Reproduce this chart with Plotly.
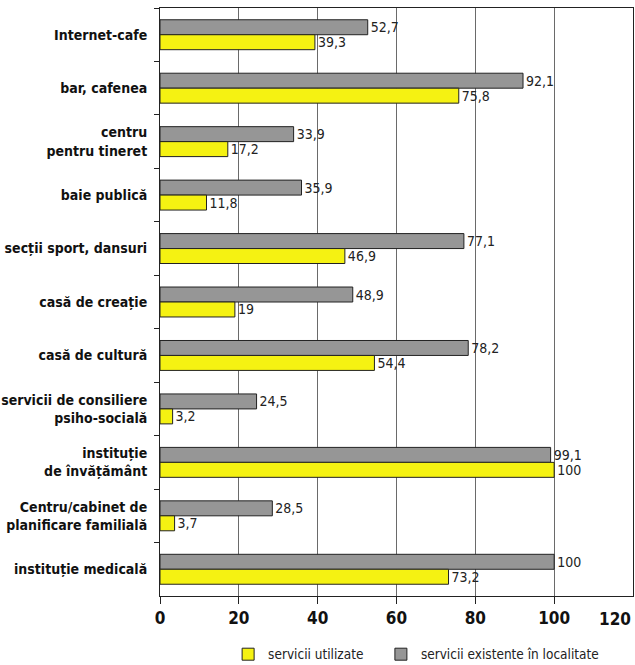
import plotly.graph_objects as go

categories = [
    "Internet-cafe",
    "bar, cafenea",
    "centru<br>pentru tineret",
    "baie publică",
    "secții sport, dansuri",
    "casă de creație",
    "casă de cultură",
    "servicii de consiliere<br>psiho-socială",
    "instituție<br>de învățământ",
    "Centru/cabinet de<br>planificare familială",
    "instituție medicală",
]
existente = [52.7, 92.1, 33.9, 35.9, 77.1, 48.9, 78.2, 24.5, 99.1, 28.5, 100]
utilizate = [39.3, 75.8, 17.2, 11.8, 46.9, 19, 54.4, 3.2, 100, 3.7, 73.2]
x_ticks = [0, 20, 40, 60, 80, 100, 120]


def fmt(v):
    return f"{v:g}".replace(".", ",")


label_font = dict(family="DejaVu Sans Condensed", size=14, color="#222")
cat_font = dict(family="DejaVu Sans Condensed", size=14, color="#111",
                weight="bold")
xtick_font = dict(family="DejaVu Sans Condensed", size=17, color="#111",
                  weight="bold")
legend_font = dict(family="DejaVu Sans Condensed", size=13.5, color="#222")

fig = go.Figure()
fig.add_trace(go.Bar(
    y=categories, x=existente, orientation="h",
    name="servicii existente în localitate",
    marker=dict(color="#969696", line=dict(color="#222", width=1)),
    text=[fmt(v) for v in existente], textposition="outside",
    textfont=label_font, cliponaxis=False, constraintext="none",
    legend="legend2",
))
fig.add_trace(go.Bar(
    y=categories, x=utilizate, orientation="h",
    name="servicii utilizate",
    marker=dict(color="#F5F212", line=dict(color="#222", width=1)),
    text=[fmt(v) for v in utilizate], textposition="outside",
    textfont=label_font, cliponaxis=False, constraintext="none",
    legend="legend",
))

# last x tick label sits flush with the right edge of the plot
fig.add_annotation(
    x=x_ticks[-1], xref="x", y=0, yref="paper", yshift=-11,
    text=str(x_ticks[-1]), showarrow=False,
    xanchor="right", yanchor="top", font=xtick_font,
)

fig.update_layout(
    width=635, height=665,
    margin=dict(l=160, r=2, t=8, b=69, autoexpand=False),
    barmode="group", bargap=0.44, bargroupgap=0,
    plot_bgcolor="white", paper_bgcolor="white",
    font=dict(family="DejaVu Sans Condensed", size=14, color="#111"),
    showlegend=True,
    legend=dict(
        orientation="h", x=0.144, xanchor="left", y=-0.073, yanchor="top",
        font=legend_font, bgcolor="rgba(0,0,0,0)",
    ),
    legend2=dict(
        orientation="h", x=0.467, xanchor="left", y=-0.073, yanchor="top",
        font=legend_font, bgcolor="rgba(0,0,0,0)",
    ),
    xaxis=dict(
        range=[0, 120], tickvals=x_ticks[:-1], showgrid=True,
        gridcolor="#6a6a6a", gridwidth=1,
        showline=True, linecolor="#222", linewidth=1, mirror=True,
        ticks="outside", ticklen=7, tickcolor="#222",
        tickfont=xtick_font, ticklabelstandoff=0,
        zeroline=False,
    ),
    yaxis=dict(
        autorange="reversed", showline=True, linecolor="#222", linewidth=1,
        mirror=True,
        ticks="outside", ticklen=5, tickcolor="#222", tickson="boundaries",
        tickfont=cat_font, ticklabelstandoff=9,
        showgrid=False,
    ),
)

fig.write_html("out.html")
